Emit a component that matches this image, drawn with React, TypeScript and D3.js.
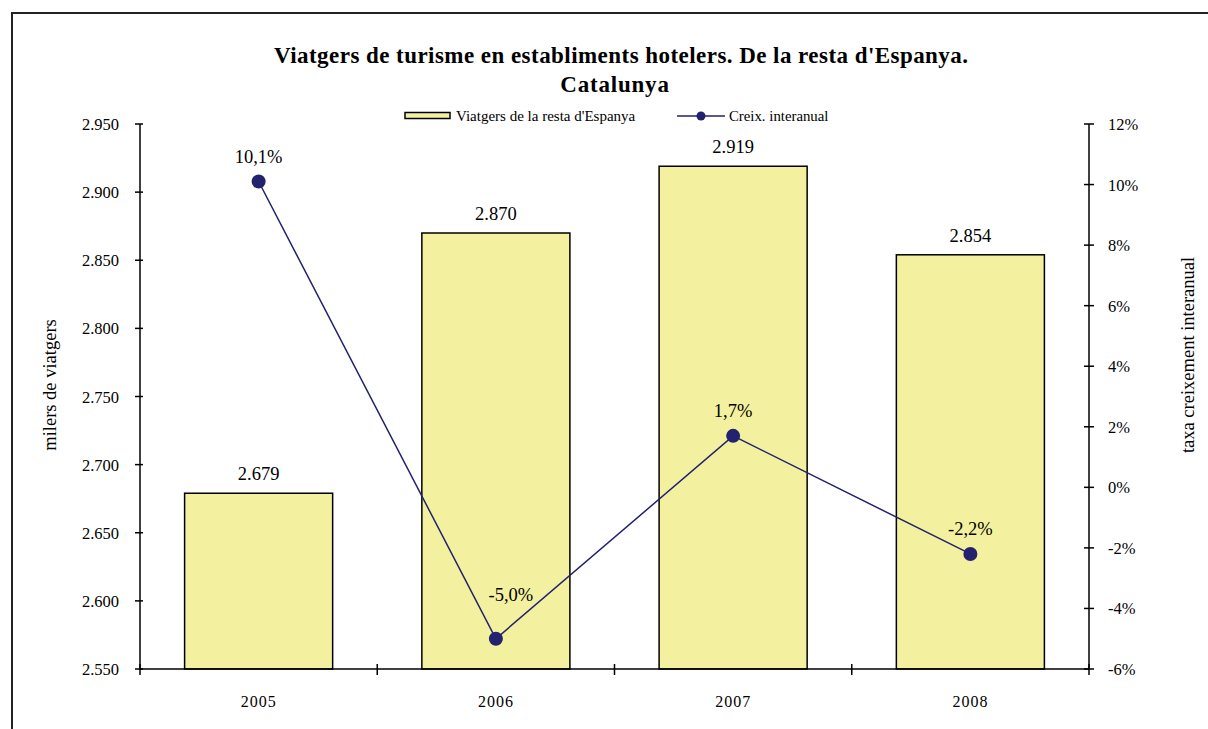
import React from 'react';
import * as d3 from 'd3';

const YEARS = ['2005', '2006', '2007', '2008'];
const VIATGERS = [2679, 2870, 2919, 2854];
const CREIX = [10.1, -5.0, 1.7, -2.2];
const LEFT_TICKS = [2550, 2600, 2650, 2700, 2750, 2800, 2850, 2900, 2950];
const RIGHT_TICKS = [-6, -4, -2, 0, 2, 4, 6, 8, 10, 12];

const W = 1208;
const H = 729;
const X0 = 140;
const X1 = 1089;
const Y_TOP = 124;
const Y_BOT = 669;

const BAR_FILL = '#f3f19f';
const LINE = '#22226e';
const FONT = '"Liberation Serif", "Times New Roman", serif';

// the 2006 label was dragged aside in the original so it doesn't sit on the line
const PCT_LABEL_SHIFT: [number, number][] = [[0, 0], [15, -19], [0, 0], [0, 0]];

const fmtThousands = (v: number) => (v / 1000).toFixed(3);
const fmtPct = (v: number) => `${v.toFixed(1).replace('.', ',')}%`;

export default function App() {
  const x = d3.scaleBand<string>().domain(YEARS).range([X0, X1]).paddingInner(0.376).paddingOuter(0.188);
  const xCenter = d3.scaleBand<string>().domain(YEARS).range([X0, X1]);
  const yL = d3.scaleLinear().domain([2550, 2950]).range([Y_BOT, Y_TOP]);
  const yR = d3.scaleLinear().domain([-6, 12]).range([Y_BOT, Y_TOP]);

  const cx = (d: string) => (xCenter(d) ?? 0) + xCenter.bandwidth() / 2;
  const line = d3.line<number>()
    .x((_, i) => cx(YEARS[i]))
    .y((v) => yR(v));

  const bounds = [X0, ...YEARS.map((d) => (xCenter(d) ?? 0) + xCenter.bandwidth())];

  return (
    <svg width={W} height={H} style={{ position: 'absolute', left: 0, top: 0, background: '#fff' }} fontFamily={FONT}>
      <rect x={12} y={13} width={W} height={H} fill="#fff" stroke="#222" strokeWidth={2} />

      <text x={621} y={63} textAnchor="middle" fontSize={23} fontWeight="bold" textLength={694} lengthAdjust="spacing">
        Viatgers de turisme en establiments hotelers. De la resta d'Espanya.
      </text>
      <text x={615} y={92} textAnchor="middle" fontSize={23} fontWeight="bold" letterSpacing={0.8}>
        Catalunya
      </text>

      {/* legend */}
      <rect x={405} y={112.5} width={45} height={6} fill={BAR_FILL} stroke="#000" strokeWidth={1.5} />
      <text x={456} y={121} fontSize={15}>Viatgers de la resta d'Espanya</text>
      <line x1={677} x2={725} y1={116} y2={116} stroke={LINE} strokeWidth={1.5} />
      <circle cx={701} cy={116} r={4.5} fill={LINE} />
      <text x={729} y={121} fontSize={14.8}>Creix. interanual</text>

      {/* bars */}
      {YEARS.map((d, i) => (
        <g key={d}>
          <rect
            x={x(d)}
            y={yL(VIATGERS[i])}
            width={x.bandwidth()}
            height={Y_BOT - yL(VIATGERS[i])}
            fill={BAR_FILL}
            stroke="#000"
            strokeWidth={1.5}
          />
          <text x={cx(d)} y={yL(VIATGERS[i]) - 13} textAnchor="middle" fontSize={18.5}>
            {fmtThousands(VIATGERS[i])}
          </text>
        </g>
      ))}

      {/* axes */}
      <line x1={X0} x2={X0} y1={Y_TOP} y2={Y_BOT} stroke="#000" strokeWidth={1.5} />
      <line x1={X1} x2={X1} y1={Y_TOP} y2={Y_BOT} stroke="#000" strokeWidth={1.5} />
      <line x1={X0} x2={X1} y1={Y_BOT} y2={Y_BOT} stroke="#000" strokeWidth={1.5} />
      {LEFT_TICKS.map((t) => (
        <g key={t}>
          <line x1={X0 - 5} x2={X0 + 3} y1={yL(t)} y2={yL(t)} stroke="#000" strokeWidth={1.5} />
          <text x={119} y={yL(t) + 6} textAnchor="end" fontSize={16.5}>{fmtThousands(t)}</text>
        </g>
      ))}
      {RIGHT_TICKS.map((t) => (
        <g key={t}>
          <line x1={X1 - 5} x2={X1 + 5} y1={yR(t)} y2={yR(t)} stroke="#000" strokeWidth={1.5} />
          <text x={1108} y={yR(t) + 6} textAnchor="start" fontSize={16.5}>{`${t}%`}</text>
        </g>
      ))}
      {bounds.map((b, i) => (
        <line key={i} x1={b} x2={b} y1={Y_BOT - 5} y2={Y_BOT + 6} stroke="#000" strokeWidth={1.5} />
      ))}
      {YEARS.map((d) => (
        <text key={d} x={cx(d)} y={707} textAnchor="middle" fontSize={16} letterSpacing={1}>{d}</text>
      ))}

      <text transform={`translate(56,385) rotate(-90)`} textAnchor="middle" fontSize={18.5}>milers de viatgers</text>
      <text transform={`translate(1194,355) rotate(-90)`} textAnchor="middle" fontSize={18.5}>taxa creixement interanual</text>

      {/* line series */}
      <path d={line(CREIX) ?? ''} fill="none" stroke={LINE} strokeWidth={1.5} />
      {CREIX.map((v, i) => (
        <g key={YEARS[i]}>
          <circle cx={cx(YEARS[i])} cy={yR(v)} r={7} fill={LINE} />
          <text
            x={cx(YEARS[i]) + PCT_LABEL_SHIFT[i][0]}
            y={yR(v) - 19 + PCT_LABEL_SHIFT[i][1]}
            textAnchor="middle"
            fontSize={18.5}
          >
            {fmtPct(v)}
          </text>
        </g>
      ))}
    </svg>
  );
}
